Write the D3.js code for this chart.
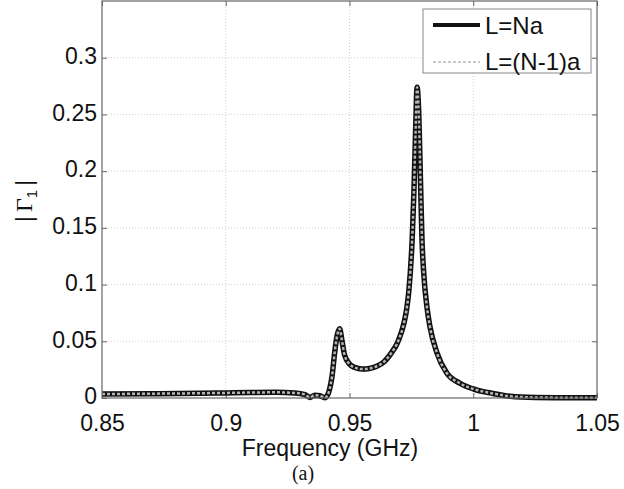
<!DOCTYPE html>
<html>
<head>
<meta charset="utf-8">
<script src="https://cdn.jsdelivr.net/npm/d3@7"></script>
<style>
  body { margin: 0; background: #fff; }
  text { font-family: Arial, "Liberation Sans", sans-serif; fill: #111; }
</style>
</head>
<body>
<div id="chart"></div>
<script>
// frequency (GHz) and |Gamma_1|
var freq = [0.85, 0.87, 0.89, 0.90, 0.91, 0.92, 0.928, 0.932, 0.934, 0.936, 0.938, 0.940,
  0.941, 0.942, 0.943, 0.944, 0.945, 0.946, 0.947, 0.948, 0.950, 0.952, 0.955, 0.958,
  0.961, 0.964, 0.967, 0.969, 0.970, 0.972, 0.9732, 0.974, 0.9753, 0.976, 0.9767, 0.9773,
  0.978, 0.9787, 0.9793, 0.980, 0.9813, 0.9825, 0.9853, 0.9893, 0.9946, 1.0015, 1.008,
  1.015, 1.025, 1.035, 1.05];
var gammaNa = [0.0035, 0.0038, 0.0042, 0.0045, 0.0048, 0.005, 0.0045, 0.003, 0.0005, 0.0025, 0.002, 0.0003,
  0.002, 0.008, 0.02, 0.04, 0.055, 0.061, 0.05, 0.038, 0.030, 0.027, 0.0255, 0.026,
  0.028, 0.032, 0.040, 0.047, 0.052, 0.066, 0.080, 0.095, 0.139, 0.18, 0.235, 0.274,
  0.25, 0.19, 0.139, 0.11, 0.080, 0.063, 0.040, 0.022, 0.013, 0.007, 0.004,
  0.0015, 0.0005, 0.0003, 0.0002];
// the second case lies right on top of the first
var gammaN1 = gammaNa.slice();

var xTicks = [0.85, 0.9, 0.95, 1, 1.05];
var yTicks = [0, 0.05, 0.1, 0.15, 0.2, 0.25, 0.3];
var seriesNames = ["L=Na", "L=(N-1)a"];

var W = 624, H = 489;
var margin = {top: 1, right: 27, bottom: 91, left: 102};
var w = W - margin.left - margin.right,
    h = H - margin.top - margin.bottom;

var svg = d3.select('#chart').append('svg')
  .attr('width', W)
  .attr('height', H);

var g = svg.append('g')
  .attr('transform', 'translate(' + margin.left + ',' + margin.top + ')');

var x = d3.scaleLinear().domain([0.85, 1.05]).range([0, w]);
var y = d3.scaleLinear().domain([0, 0.35]).range([h, 0]);

// grid
g.append('g').selectAll('line')
  .data(xTicks.slice(1, -1))
  .enter().append('line')
  .attr('x1', function(d) { return x(d) }).attr('x2', function(d) { return x(d) })
  .attr('y1', 0).attr('y2', h)
  .attr('stroke', '#d0d0d0').attr('stroke-dasharray', '1,2');
g.append('g').selectAll('line')
  .data(yTicks.slice(1))
  .enter().append('line')
  .attr('y1', function(d) { return y(d) }).attr('y2', function(d) { return y(d) })
  .attr('x1', 0).attr('x2', w)
  .attr('stroke', '#d0d0d0').attr('stroke-dasharray', '1,2');

// axes, ticks inside on all four sides
function styleAxis(sel) {
  sel.select('.domain').remove();
  sel.selectAll('.tick line').attr('stroke', '#666');
  sel.selectAll('text').style('font-size', '23px').attr('fill', '#111');
}
g.append('g')
  .attr('transform', 'translate(0,' + h + ')')
  .call(d3.axisBottom(x).tickValues(xTicks).tickSizeInner(-5).tickPadding(12).tickFormat(d3.format('')))
  .call(styleAxis)
  .selectAll('text').attr('dy', '0.9em');
g.append('g')
  .call(d3.axisLeft(y).tickValues(yTicks).tickSizeInner(-5).tickPadding(5).tickFormat(d3.format('')))
  .call(styleAxis)
  .selectAll('text').attr('dy', '0.25em');
g.append('g')
  .call(d3.axisTop(x).tickValues(xTicks).tickSizeInner(-5).tickFormat(''))
  .call(styleAxis);
g.append('g')
  .attr('transform', 'translate(' + w + ',0)')
  .call(d3.axisRight(y).tickValues(yTicks).tickSizeInner(-5).tickFormat(''))
  .call(styleAxis);

// data lines
var line = d3.line()
  .x(function(d) { return x(d[0]) })
  .y(function(d) { return y(d[1]) })
  .curve(d3.curveMonotoneX);

g.append('path')
  .datum(d3.zip(freq, gammaNa))
  .attr('d', line)
  .attr('fill', 'none')
  .attr('stroke', '#111')
  .attr('stroke-width', 5.5);
g.append('path')
  .datum(d3.zip(freq, gammaN1))
  .attr('d', line)
  .attr('fill', 'none')
  .attr('stroke', '#b4b4b4')
  .attr('stroke-width', 2.5)
  .attr('stroke-dasharray', '3,2');

// box
g.append('rect')
  .attr('width', w).attr('height', h)
  .attr('fill', 'none').attr('stroke', '#666').attr('stroke-width', 1.2);

// legend
var lg = svg.append('g').attr('transform', 'translate(423,9)');
lg.append('rect')
  .attr('width', 168).attr('height', 64)
  .attr('fill', '#fff').attr('stroke', '#888');
lg.append('line')
  .attr('x1', 10).attr('x2', 57).attr('y1', 16).attr('y2', 16)
  .attr('stroke', '#111').attr('stroke-width', 4);
lg.append('line')
  .attr('x1', 10).attr('x2', 57).attr('y1', 53).attr('y2', 53)
  .attr('stroke', '#c8c8c8').attr('stroke-width', 2).attr('stroke-dasharray', '3,2');
lg.selectAll('text.name')
  .data(seriesNames)
  .enter().append('text')
  .attr('class', 'name')
  .attr('x', 62)
  .attr('y', function(d, i) { return 25 + i * 36 })
  .style('font-size', '24px')
  .text(function(d) { return d });

// axis titles
svg.append('text')
  .attr('x', 330).attr('y', 456)
  .attr('text-anchor', 'middle')
  .style('font-size', '23px')
  .text('Frequency (GHz)');

var yl = svg.append('text')
  .attr('transform', 'translate(32,201) rotate(-90)')
  .attr('text-anchor', 'middle')
  .style('font-size', '24px');
yl.append('tspan').text('|');
yl.append('tspan').attr('dx', 4).style('font-family', '"Liberation Serif", "Times New Roman", serif').text('Γ');
yl.append('tspan').attr('dy', 5).style('font-size', '15px').text('1');
yl.append('tspan').attr('dy', -5).attr('dx', 4).text('|');

svg.append('text')
  .attr('x', 303).attr('y', 480)
  .attr('text-anchor', 'middle')
  .style('font-family', '"Liberation Serif", "Times New Roman", serif')
  .style('font-size', '20px')
  .text('(a)');
</script>
</body>
</html>
